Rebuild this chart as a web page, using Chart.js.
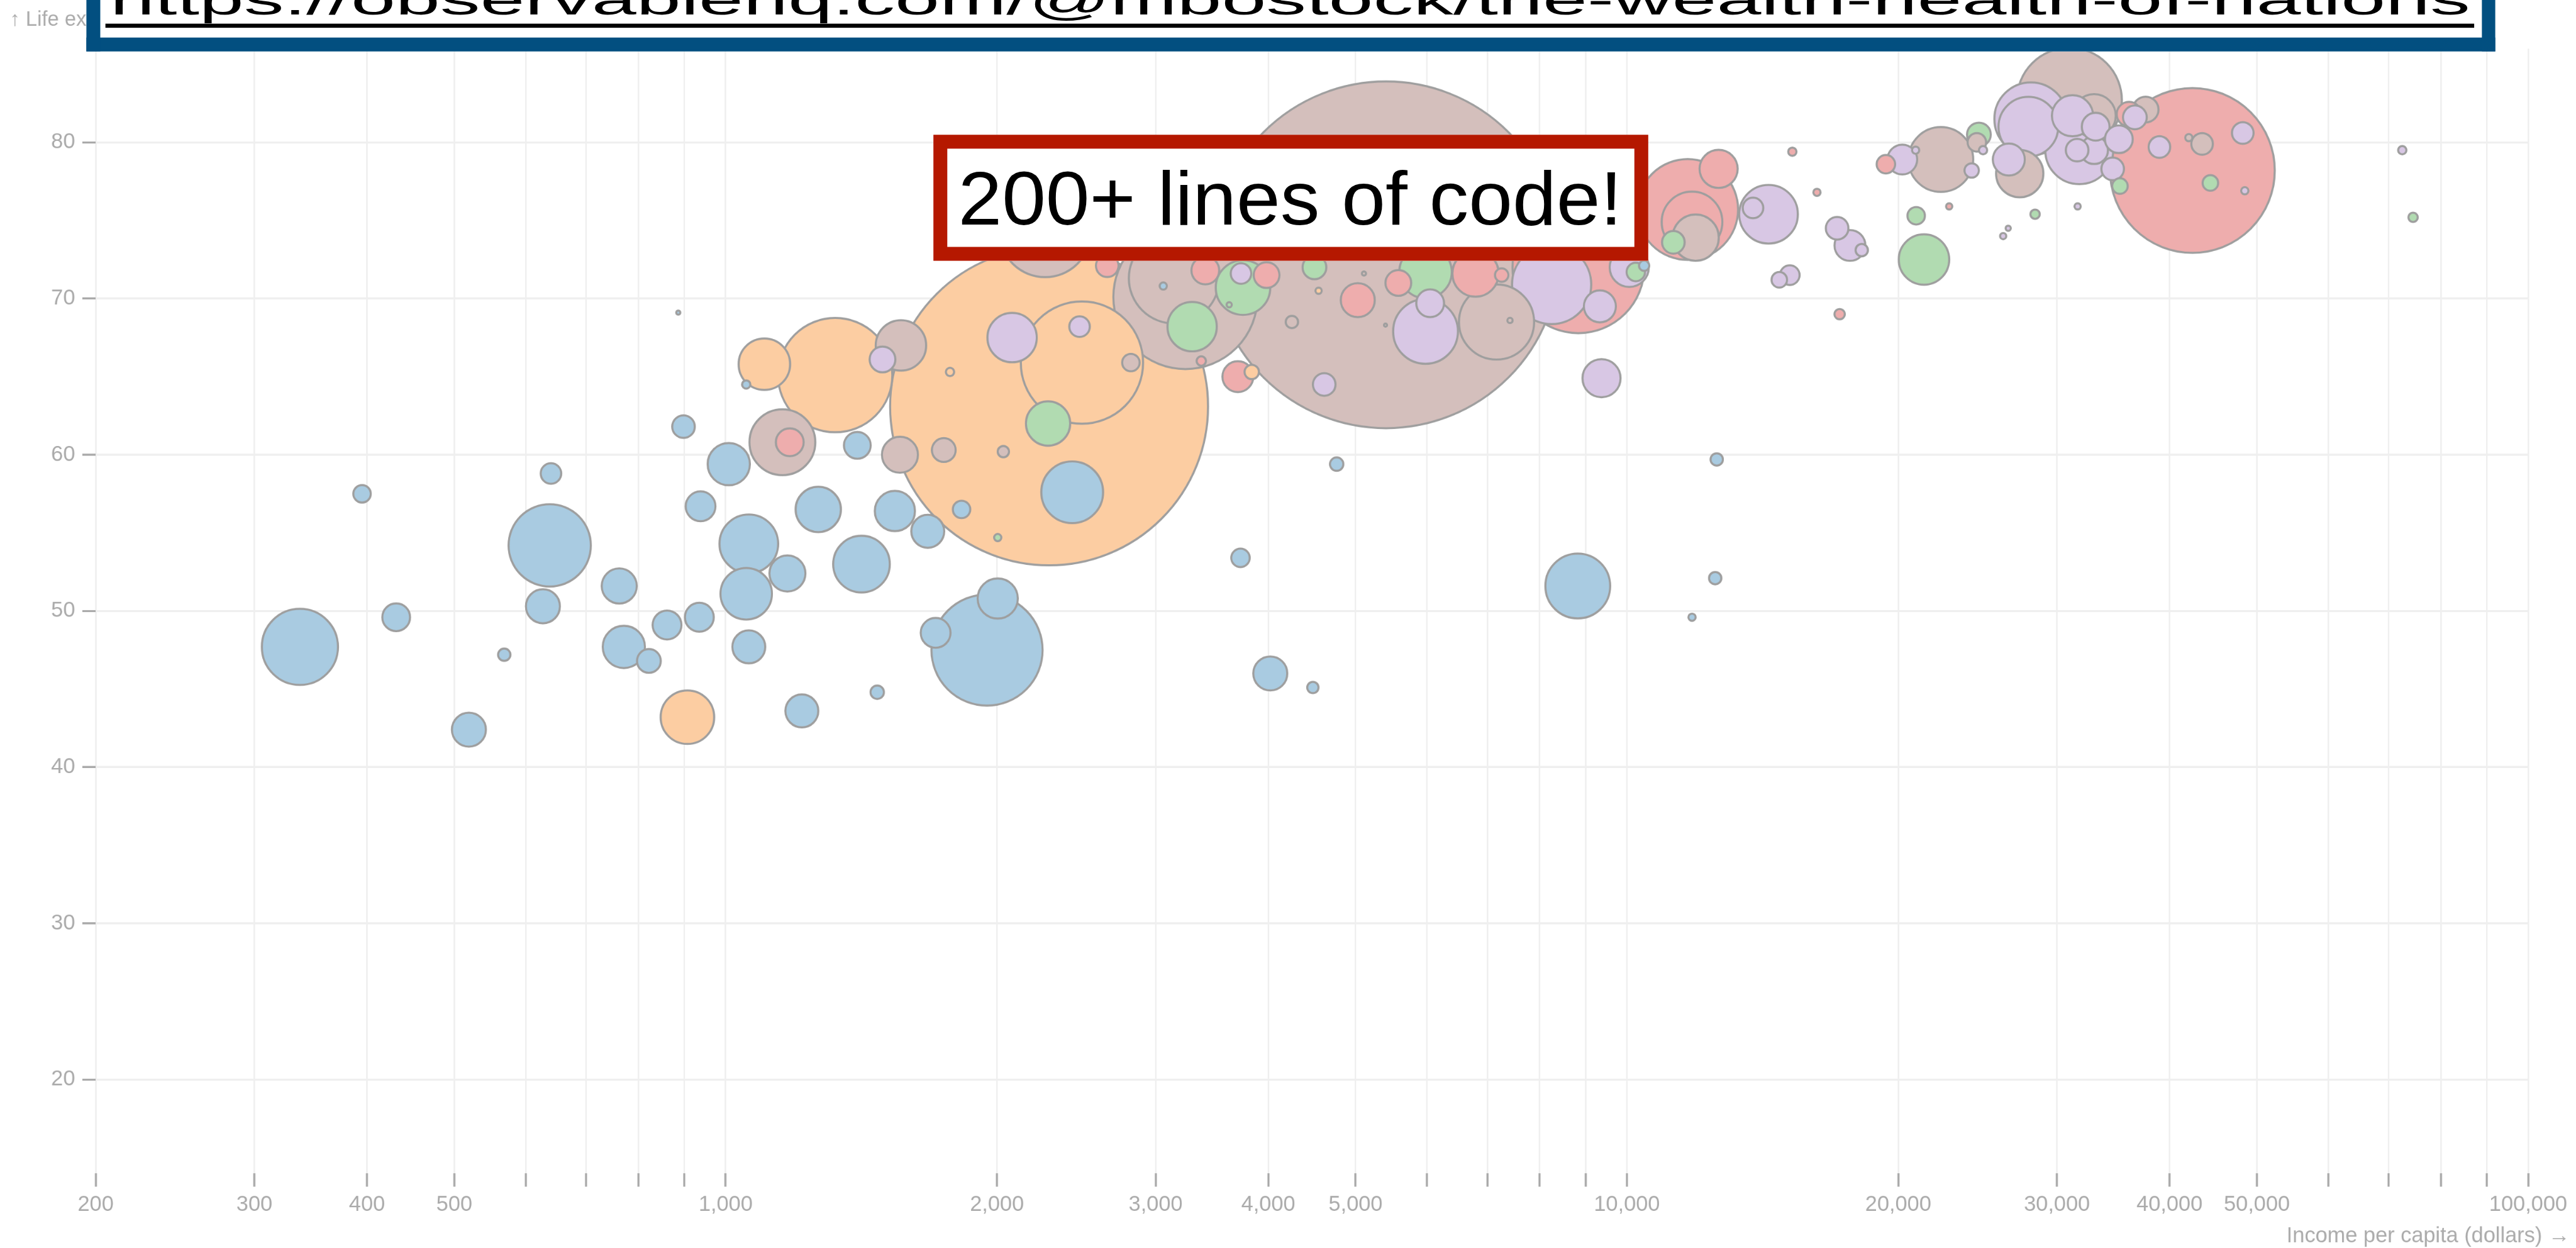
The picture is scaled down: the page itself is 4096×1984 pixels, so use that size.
<!DOCTYPE html>
<html>
<head>
<meta charset="utf-8">
<title>The Wealth &amp; Health of Nations</title>
<script src="https://cdn.jsdelivr.net/npm/chart.js@4.4.1/dist/chart.umd.min.js"></script>
<style>
  html, body { margin:0; padding:0; background:#fff; overflow:hidden; width:4096px; height:1984px; }
  #stage { position:absolute; left:0; top:0; width:5009px; height:2426px; transform:scale(0.817728); transform-origin:0 0; overflow:hidden; background:#fff; }
  #chart { position:absolute; left:0; top:0; }
  #banner { position:absolute; left:168px; top:-80px; width:4684px; height:180px; box-sizing:border-box; border:27px solid #024f80; border-top:none; border-right-width:26px; background:#fff; }
  #bannerText { position:absolute; left:214px; top:-43px; font-family:"Liberation Sans", Arial, Helvetica, sans-serif; font-size:84px; line-height:84px; color:#000; white-space:nowrap; transform-origin:0 0; }
  #bannerLine { position:absolute; left:205px; top:46px; width:4606px; height:8px; background:#000; }
  #box { position:absolute; left:1815px; top:262px; width:1390px; height:245px; box-sizing:border-box; border:27px solid #b51800; background:#fff; }
  #boxText { position:absolute; left:1863px; top:313px; font-family:"Liberation Sans", Arial, Helvetica, sans-serif; font-size:147px; line-height:147px; color:#000; white-space:nowrap; transform-origin:0 0; }
</style>
</head>
<body>
<div id="stage">
  <canvas id="chart" width="5009" height="2426"></canvas>
  <div id="banner"></div>
  <div id="bannerText">https://observablehq.com/@mbostock/the-wealth-health-of-nations</div>
  <div id="bannerLine"></div>
  <div id="box"></div>
  <div id="boxText">200+ lines of code!</div>
</div>
<script>
// ---- Data: [income per capita ($), life expectancy (years), population (millions)] ----
const subSaharanAfrica = [
  [337,47.7,64.7],[395,57.5,3.4],[431,49.6,8.6],[519,42.4,12.9],[568,47.2,1.7],
  [640,58.8,4.7],[638,54.2,75.6],[627,50.3,12.9],[762,51.6,13.7],[771,47.7,19.9],
  [822,46.8,6.3],[861,49.1,9.3],[935,49.6,9.3],[898,61.8,5.7],[938,56.7,9.9],
  [1008,59.4,19.9],[1061,54.3,38.4],[1054,51.1,29.6],[1171,52.4,14.5],[1061,47.7,12.1],
  [1215,43.6,12.1],[1473,44.8,2.0],[1267,56.5,22.9],[1400,60.6,8.0],[1541,56.4,18.0],
  [1676,55.1,12.1],[1415,53.0,35.8],[1710,48.6,9.9],[1054,64.5,0.76],[1950,47.5,137.9],
  [2004,50.8,18.0],[2424,57.6,42.6],[1827,56.5,3.4],[4764,59.4,2.0],[3726,53.4,3.8],
  [4021,46.0,12.9],[4483,45.1,1.43],[8820,51.6,46.9],[12580,59.7,1.7],[12530,52.1,1.7],
  [11810,49.6,0.58],[3059,70.8,0.58],[10450,72.1,1.18],[886,69.1,0.19]
];
const southAsia = [
  [2285,63.1,1129],[2485,65.9,167],[1323,65.1,146],[1104,65.8,29.6],[907,43.2,32.0],
  [1774,65.3,0.76],[3835,65.3,2.3],[4549,70.5,0.43]
];
const eastAsiaPacific = [
  [5404,72.8,1342],[3237,70.1,232],[2262,74.3,93.6],[3145,71.3,91.5],[7167,68.5,63.0],
  [1156,60.8,48.4],[1561,60.0,14.5],[1746,60.3,6.3],[2033,60.2,1.43],[1565,67.0,28.4],
  [2816,65.9,3.4],[4249,68.5,1.7],[11920,73.9,23.9],[22300,78.9,46.9],[30970,82.7,123],
  [24450,80.0,3.8],[32990,81.7,20.9],[27280,78.0,25.0],[37630,82.1,7.4],[43470,79.9,5.2],
  [5108,71.6,0.19],[7418,68.6,0.3],[5397,68.3,0.11],[42020,80.3,0.58]
];
const middleEastNorthAfrica = [
  [2279,62.0,21.9],[3293,68.2,27.2],[3750,70.7,33.2],[4501,72.0,6.3],[5978,71.7,30.7],
  [3620,69.6,0.3],[2004,54.7,0.58],[11260,73.6,5.7],[20940,75.3,3.4],[21360,72.5,28.4],
  [24580,80.5,6.3],[35240,77.2,2.7],[44400,77.4,2.7],[28370,75.4,0.96],[74520,75.2,0.96],
  [10230,71.7,3.8]
];
const america = [
  [42410,78.2,303],[11680,75.7,113.5],[8834,72.0,193.7],[12640,78.3,16.2],[11810,74.9,41.1],
  [6792,71.6,23.9],[7262,71.5,2.0],[5028,69.9,12.9],[5577,71.0,7.4],[3406,71.8,8.6],
  [3983,71.5,7.4],[3701,65.0,10.6],[3371,66.0,0.96],[1178,60.8,8.6],[2651,72.1,5.7],
  [19380,78.6,3.8],[15260,79.4,0.76],[16250,76.8,0.58],[17220,69.0,1.18],[22780,75.9,0.43],
  [36070,81.8,6.8]
];
const europeCentralAsia = [
  [8250,70.9,70.1],[5978,67.9,46.9],[6049,69.7,8.6],[4615,64.5,5.7],[3731,71.6,4.7],
  [2079,67.5,27.2],[2470,68.2,4.7],[1493,66.1,7.4],[9333,69.5,11.4],[9372,64.9,16.2],
  [10060,72.0,17.1],[14360,75.4,38.4],[13800,75.8,4.7],[17110,74.5,5.7],[17680,73.4,10.6],
  [18220,73.1,1.7],[15160,71.5,4.3],[14760,71.2,2.7],[20210,78.9,9.9],[20910,79.5,0.58],
  [24130,78.2,2.3],[24840,79.5,0.76],[28070,81.5,59.6],[27890,81.0,39.8],[31220,81.7,18.9],
  [31760,79.5,51.5],[31590,79.5,5.7],[32990,79.5,8.6],[33120,81.0,8.6],[35140,80.2,8.6],
  [26530,78.9,11.4],[34590,78.3,5.7],[38980,79.7,5.2],[36610,81.6,6.3],[48230,80.6,5.2],
  [72490,79.5,0.76],[26490,74.5,0.3],[26150,74.0,0.43],[31630,75.9,0.43],[48480,76.9,0.58]
];

const xTickValues = [200,300,400,500,600,700,800,900,1000,2000,3000,4000,5000,6000,7000,8000,9000,10000,20000,30000,40000,50000,60000,70000,80000,90000,100000];
const xTickLabels = [200,300,400,500,1000,2000,3000,4000,5000,10000,20000,30000,40000,50000,100000];
const yTickValues = [20,30,40,50,60,70,80];
const xTitle = "Income per capita (dollars) \u2192";
const yTitle = "\u2191 Life expectancy (years)";

// ---- Styling ----
const FONT = '"Liberation Sans", Arial, Helvetica, sans-serif';
const regions = [
  {data: subSaharanAfrica, color: '#a9cbe1'},
  {data: southAsia, color: '#fccda2'},
  {data: eastAsiaPacific, color: '#d4bfbc'},
  {data: middleEastNorthAfrica, color: '#b1dbb1'},
  {data: america, color: '#eeadad'},
  {data: europeCentralAsia, color: '#d8c7e4'}
];
// sqrt radius scale (population in millions -> pixels)
const radius = pop => 9.2 * Math.sqrt(pop);

const all = [];
regions.forEach(g => g.data.forEach(d => all.push({x: d[0], y: d[1], pop: d[2], color: g.color})));
all.sort((a, b) => b.pop - a.pop);
const points = all.map(d => ({x: d.x, y: d.y, r: radius(d.pop)}));
const fills = all.map(d => d.color);

const axisTitles = {
  id: 'axisTitles',
  afterDraw(chart) {
    const ctx = chart.ctx;
    ctx.save();
    ctx.fillStyle = '#ababab';
    ctx.textBaseline = 'alphabetic';
    ctx.font = '42px ' + FONT;
    ctx.textAlign = 'right';
    ctx.fillText(xTitle, 4997, 2415);
    ctx.font = '40px ' + FONT;
    ctx.textAlign = 'left';
    ctx.fillText(yTitle, 19, 50);
    ctx.restore();
  }
};

new Chart(document.getElementById('chart'), {
  type: 'bubble',
  data: {
    datasets: [{
      data: points,
      backgroundColor: fills,
      borderColor: '#9e9e9e',
      borderWidth: 4,
      clip: false
    }]
  },
  options: {
    responsive: false,
    animation: false,
    devicePixelRatio: 1,
    layout: {autoPadding: false, padding: {top: 94.5, right: 93, left: 0, bottom: 0}},
    plugins: {legend: {display: false}, tooltip: {enabled: false}},
    scales: {
      x: {
        type: 'logarithmic', min: 200, max: 100000,
        afterBuildTicks: s => { s.ticks = xTickValues.map(v => ({value: v})); },
        afterFit: s => { s.height = 145; },
        ticks: {
          autoSkip: false, maxRotation: 0, minRotation: 0, padding: 10,
          color: '#aaaaaa', font: {size: 42, family: FONT},
          callback: v => xTickLabels.includes(v) ? v.toLocaleString('en-US') : ''
        },
        grid: {color: '#efefef', lineWidth: 3, drawTicks: true, tickLength: 26, tickColor: '#a8a8a8', tickWidth: 4},
        border: {display: false}
      },
      y: {
        type: 'linear', min: 14, max: 86,
        afterBuildTicks: s => { s.ticks = yTickValues.map(v => ({value: v})); },
        afterFit: s => { s.width = 186; },
        ticks: {padding: 14, color: '#aaaaaa', font: {size: 42, family: FONT}},
        grid: {color: '#efefef', lineWidth: 4, drawTicks: true, tickLength: 26, tickColor: '#aaaaaa', tickWidth: 4},
        border: {display: false}
      }
    }
  },
  plugins: [axisTitles]
});

// stretch overlay texts to their measured widths in the reference
function fit(id, target) {
  const el = document.getElementById(id);
  const w = el.offsetWidth;
  if (w > 0) el.style.transform = 'scaleX(' + (target / w) + ')';
}
fit('bannerText', 4589);
fit('boxText', 1291);
</script>
</body>
</html>
